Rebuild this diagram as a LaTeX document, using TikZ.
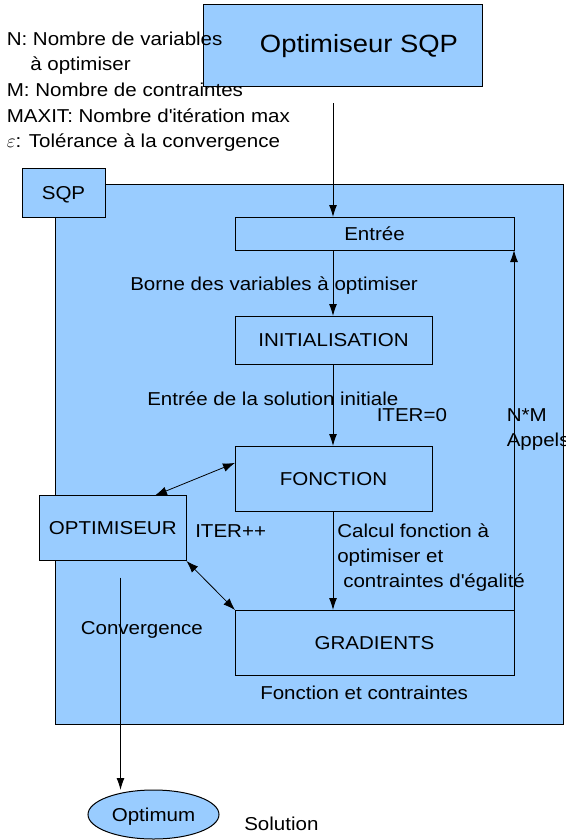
\documentclass[tikz,border=0pt]{standalone}
\usepackage{fontspec}
\setmainfont[FakeStretch=1.1]{Liberation Sans}
\usetikzlibrary{arrows.meta,calc,shapes.geometric}
\definecolor{sqpblue}{RGB}{153,204,255}
\tikzset{box/.style={draw,fill=sqpblue,line width=0.75pt,inner sep=0pt,outer sep=0pt,text height=10pt,text depth=0pt},
    lbl/.style={anchor=base west,inner sep=0pt},
    arr/.style={-{Latex[length=9pt,width=6pt]},line width=0.75pt},
    dbl/.style={{Latex[length=9pt,width=6.5pt]}-{Latex[length=9pt,width=6.5pt]},line width=0.6pt}}

\begin{document}
\begin{tikzpicture}[x=0.75pt,y=0.75pt,yscale=-1,xscale=1,font=\fontsize{14}{17}\selectfont]
\useasboundingbox (0,0) rectangle (566,840);

%Shape: Rectangle [SQP container]
\node [box, minimum width=381pt, minimum height=405pt] (sqpbox) at (309,454) {};
%Shape: Rectangle [SQP tab]
\node [box, minimum width=62.25pt, minimum height=36.75pt] (sqptab) at (63.5,192.5) {SQP};
%Shape: Rectangle [Optimiseur SQP]
\node [box, minimum width=209.25pt, minimum height=61.5pt] (optsqp) at (342.5,45) {};
\node [font=\fontsize{18.7}{22}\selectfont, inner sep=0pt, text height=13.4pt, text depth=0pt] (optsqptxt) at (359,44) {Optimiseur SQP};
%Shape: Rectangle [Entree]
\node [box, minimum width=209.25pt, minimum height=24.75pt] (entree) at (374.5,233.5) {Entrée};
%Shape: Rectangle [INITIALISATION]
\node [box, minimum width=147.75pt, minimum height=36pt] (init) at (333.5,340) {INITIALISATION};
%Shape: Rectangle [FONCTION]
\node [box, minimum width=147.75pt, minimum height=48.75pt] (fonction) at (333.5,478.5) {FONCTION};
%Shape: Rectangle [OPTIMISEUR]
\node [box, minimum width=110.6pt, minimum height=49.1pt] (optimiseur) at (112.75,528.25) {OPTIMISEUR};
%Shape: Rectangle [GRADIENTS]
\node [box, minimum width=209.25pt, minimum height=48.75pt] (gradients) at (374.5,642.5) {GRADIENTS};
%Shape: Ellipse [Optimum]
\node [box, ellipse, minimum width=98.25pt, minimum height=36.75pt] (optimum) at (153.5,814.5) {Optimum};

%Free ends
\coordinate (sqpin) at (333,103);
\coordinate (convout) at (120.5,577.5);

%Straight Lines
\draw [arr] (sqpin) -- (sqpin |- entree.north);
\draw [arr] (entree.south -| sqpin) -- (init.north -| sqpin);
\draw [arr] (init.south -| sqpin) -- (fonction.north -| sqpin);
\draw [arr] (fonction.south -| sqpin) -- (gradients.north -| sqpin);
\draw [arr] (gradients.north east) -- (entree.south east);
\draw [dbl] ($(fonction.north west)!0.26!(fonction.south west)$) -- ($(optimiseur.north west)!0.786!(optimiseur.north east)$);
\draw [dbl] (optimiseur.south east) -- (gradients.north west);
\draw [arr] (convout) -- (convout |- optimum.north);

% Text Node
\node [lbl] (leg1) at (6.5,45.2) {N: Nombre de variables};
% Text Node
\node [lbl] (leg2) at (30,70.8) {à optimiser};
% Text Node
\node [lbl] (leg3) at (6.5,96.4) {M: Nombre de contraintes};
% Text Node
\node [lbl] (leg4) at (6.5,122) {MAXIT: Nombre d\textquotesingle itération max};
% Text Node
\node [lbl] (leg5) at (6.5,147.6) {$\varepsilon$: Tolérance à la convergence};
% Text Node
\node [lbl] (borne) at (130,290) {Borne des variables à optimiser};
% Text Node
\node [lbl] (solinit) at (147,405) {Entrée de la solution initiale};
% Text Node
\node [lbl] (iterzero) at (376.5,421) {ITER=0};
% Text Node
\node [lbl] (nm) at (506.5,421) {N*M};
% Text Node
\node [lbl] (appels) at (506.5,446) {Appels};
% Text Node
\node [lbl] (iterpp) at (195,537) {ITER++};
% Text Node
\node [lbl] (calcA) at (337,537) {Calcul fonction à};
% Text Node
\node [lbl] (calcB) at (337,562) {optimiser et};
% Text Node
\node [lbl] (calcC) at (343,587) {contraintes d\textquotesingle égalité};
% Text Node
\node [lbl] (conv) at (80.5,634) {Convergence};
% Text Node
\node [lbl] (fctcontr) at (260,699) {Fonction et contraintes};
% Text Node
\node [lbl] (solution) at (244,830) {Solution};

\end{tikzpicture}
\end{document}
